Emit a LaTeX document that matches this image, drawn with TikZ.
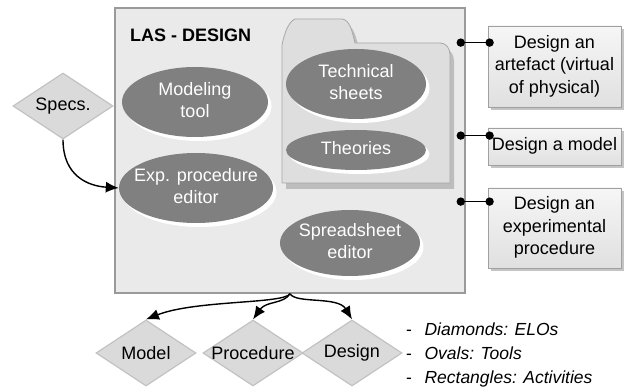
\documentclass[tikz,border=0pt]{standalone}
\usepackage{fontspec}
\setmainfont{Liberation Sans}
\usetikzlibrary{shapes.geometric,arrows.meta,shadows,calc}

\definecolor{framefill}{HTML}{EAEAEA}
\definecolor{framedraw}{HTML}{9A9A9A}
\definecolor{folderfill}{HTML}{DEDEDE}
\definecolor{folderdraw}{HTML}{A8A8A8}
\definecolor{foldershadow}{HTML}{BDBDBD}
\definecolor{toolfill}{HTML}{808080}
\definecolor{acttop}{HTML}{F6F6F6}
\definecolor{actbottom}{HTML}{E0E0E0}
\definecolor{actdraw}{HTML}{A0A0A0}
\definecolor{actshadow}{HTML}{C4C4C4}
\definecolor{elofill}{HTML}{DADADA}
\definecolor{elodraw}{HTML}{C2C2C2}

% centred lines in a box of zero width, so the shape keeps its set size
\newcommand{\fitin}[1]{\makebox[0pt]{\begin{tabular}{@{}c@{}}#1\end{tabular}}}

\begin{document}
\begin{tikzpicture}[x=1pt,y=-1pt,
  font=\fontsize{18}{22.5}\selectfont,
  frame/.style={rectangle, draw=framedraw, line width=1.5pt, fill=framefill,
    minimum width=350pt, minimum height=285pt, inner sep=0},
  tool/.style={ellipse, fill=toolfill, text=white, inner sep=0,
    drop shadow={shadow xshift=3.5pt, shadow yshift=-4pt, fill=white, opacity=1}},
  activity/.style={rectangle, draw=actdraw, line width=0.8pt,
    top color=acttop, bottom color=actbottom, minimum width=133pt, inner sep=0,
    drop shadow={shadow xshift=3pt, shadow yshift=-3.5pt, fill=actshadow, opacity=1}},
  elo/.style={diamond, fill=elofill, draw=elodraw, line width=1.2pt,
    minimum width=100pt, minimum height=66pt, inner sep=0},
  link/.style={line width=1.6pt},
  flow/.style={line width=1.4pt, -{Latex[length=13pt,width=11pt]}},
  legendline/.style={anchor=base west, inner sep=0, font=\fontsize{17.5}{22.5}\selectfont\itshape}
]
\useasboundingbox (0,0) rectangle (624,387);

% the design space
\node[frame] (frame) at (290,150.5) {};
\node[anchor=west, inner sep=0] (title) at (130,35) {\bfseries LAS - DESIGN};

% folder holding the resources
\begin{scope}[shift={(4,6)}]
  \fill[foldershadow] (282,183) -- (282,45) .. controls (284,35) and (287,26) .. (292,21)
    -- (295,19) -- (342,19) .. controls (350,20) and (352,31) .. (355,43)
    -- (440,43) .. controls (446,43) and (450,48) .. (450,55) -- (450,183) -- cycle;
\end{scope}
\draw[fill=folderfill, draw=folderdraw, line width=0.8pt]
  (282,183) -- (282,45) .. controls (284,35) and (287,26) .. (292,21)
  -- (295,19) -- (342,19) .. controls (350,20) and (352,31) .. (355,43)
  -- (440,43) .. controls (446,43) and (450,48) .. (450,55) -- (450,183) -- cycle;

% tools
\node[tool, minimum width=146pt, minimum height=70pt] (modeling) at (195,102) {\fitin{Modeling\\tool}};
\node[tool, minimum width=154pt, minimum height=70pt] (expeditor) at (196,188) {\fitin{Exp. procedure\\editor}};
\node[tool, minimum width=140pt, minimum height=70pt] (techsheets) at (356,84) {\fitin{Technical\\sheets}};
\node[tool, minimum width=140pt, minimum height=40pt] (theories) at (356,150) {\fitin{Theories}};
\node[tool, minimum width=140pt, minimum height=66pt] (spreadsheet) at (350,243) {\fitin{Spreadsheet\\editor}};

% activities
\node[activity, minimum height=81pt] (act1) at (554.5,66.5) {\fitin{Design an\\artefact (virtual\\of physical)}};
\node[activity, minimum height=37pt] (act2) at (554.5,146.5) {\fitin{Design a model}};
\node[activity, minimum height=80pt] (act3) at (554.5,228) {\fitin{Design an\\experimental\\procedure}};

% links between the design space and the activities
\coordinate (a1) at ($(act1.north west)+(2,17)$);
\coordinate (a2) at ($(act2.north west)+(2,8)$);
\coordinate (a3) at ($(act3.north west)+(2,14)$);
\coordinate (m1) at ($(frame.east |- a1)+(-5,0)$);
\coordinate (m2) at ($(frame.east |- a2)+(-5,0)$);
\coordinate (m3) at ($(frame.east |- a3)+(-5,0)$);
\foreach \m/\a in {m1/a1, m2/a2, m3/a3} {
  \draw[link] (\m) -- (\a);
  \fill (\m) circle[radius=4.2pt];
  \fill (\a) circle[radius=4.2pt];
}

% ELOs
\node[elo] (specs) at (63,106) {\makebox[0pt]{Specs.}};
\node[elo] (model) at (146,353) {\makebox[0pt]{Model}};
\node[elo] (procedure) at (253,353) {\makebox[0pt]{Procedure}};
\node[elo] (design) at (352,353) {\makebox[0pt]{Design}};

% flows of ELOs
\draw[flow] (specs.south) .. controls (63,176) and (88,186) .. (expeditor.west);
\coordinate (hub) at (frame.south);
\draw[flow] (hub) .. controls (284,304) and (195,300) .. (model.north);
\draw[flow] (hub) .. controls (284,304) and (266,301) .. (procedure.north);
\draw[flow] (hub) .. controls (296,304) and (338,296) .. (design.north);

% key
\node[legendline] (key1) at (406,336) {\upshape-\hspace{12.5pt}\itshape Diamonds: ELOs};
\node[legendline] (key2) at (406,359.5) {\upshape-\hspace{12.5pt}\itshape Ovals: Tools};
\node[legendline] (key3) at (406,383) {\upshape-\hspace{12.5pt}\itshape Rectangles: Activities};
\end{tikzpicture}
\end{document}
